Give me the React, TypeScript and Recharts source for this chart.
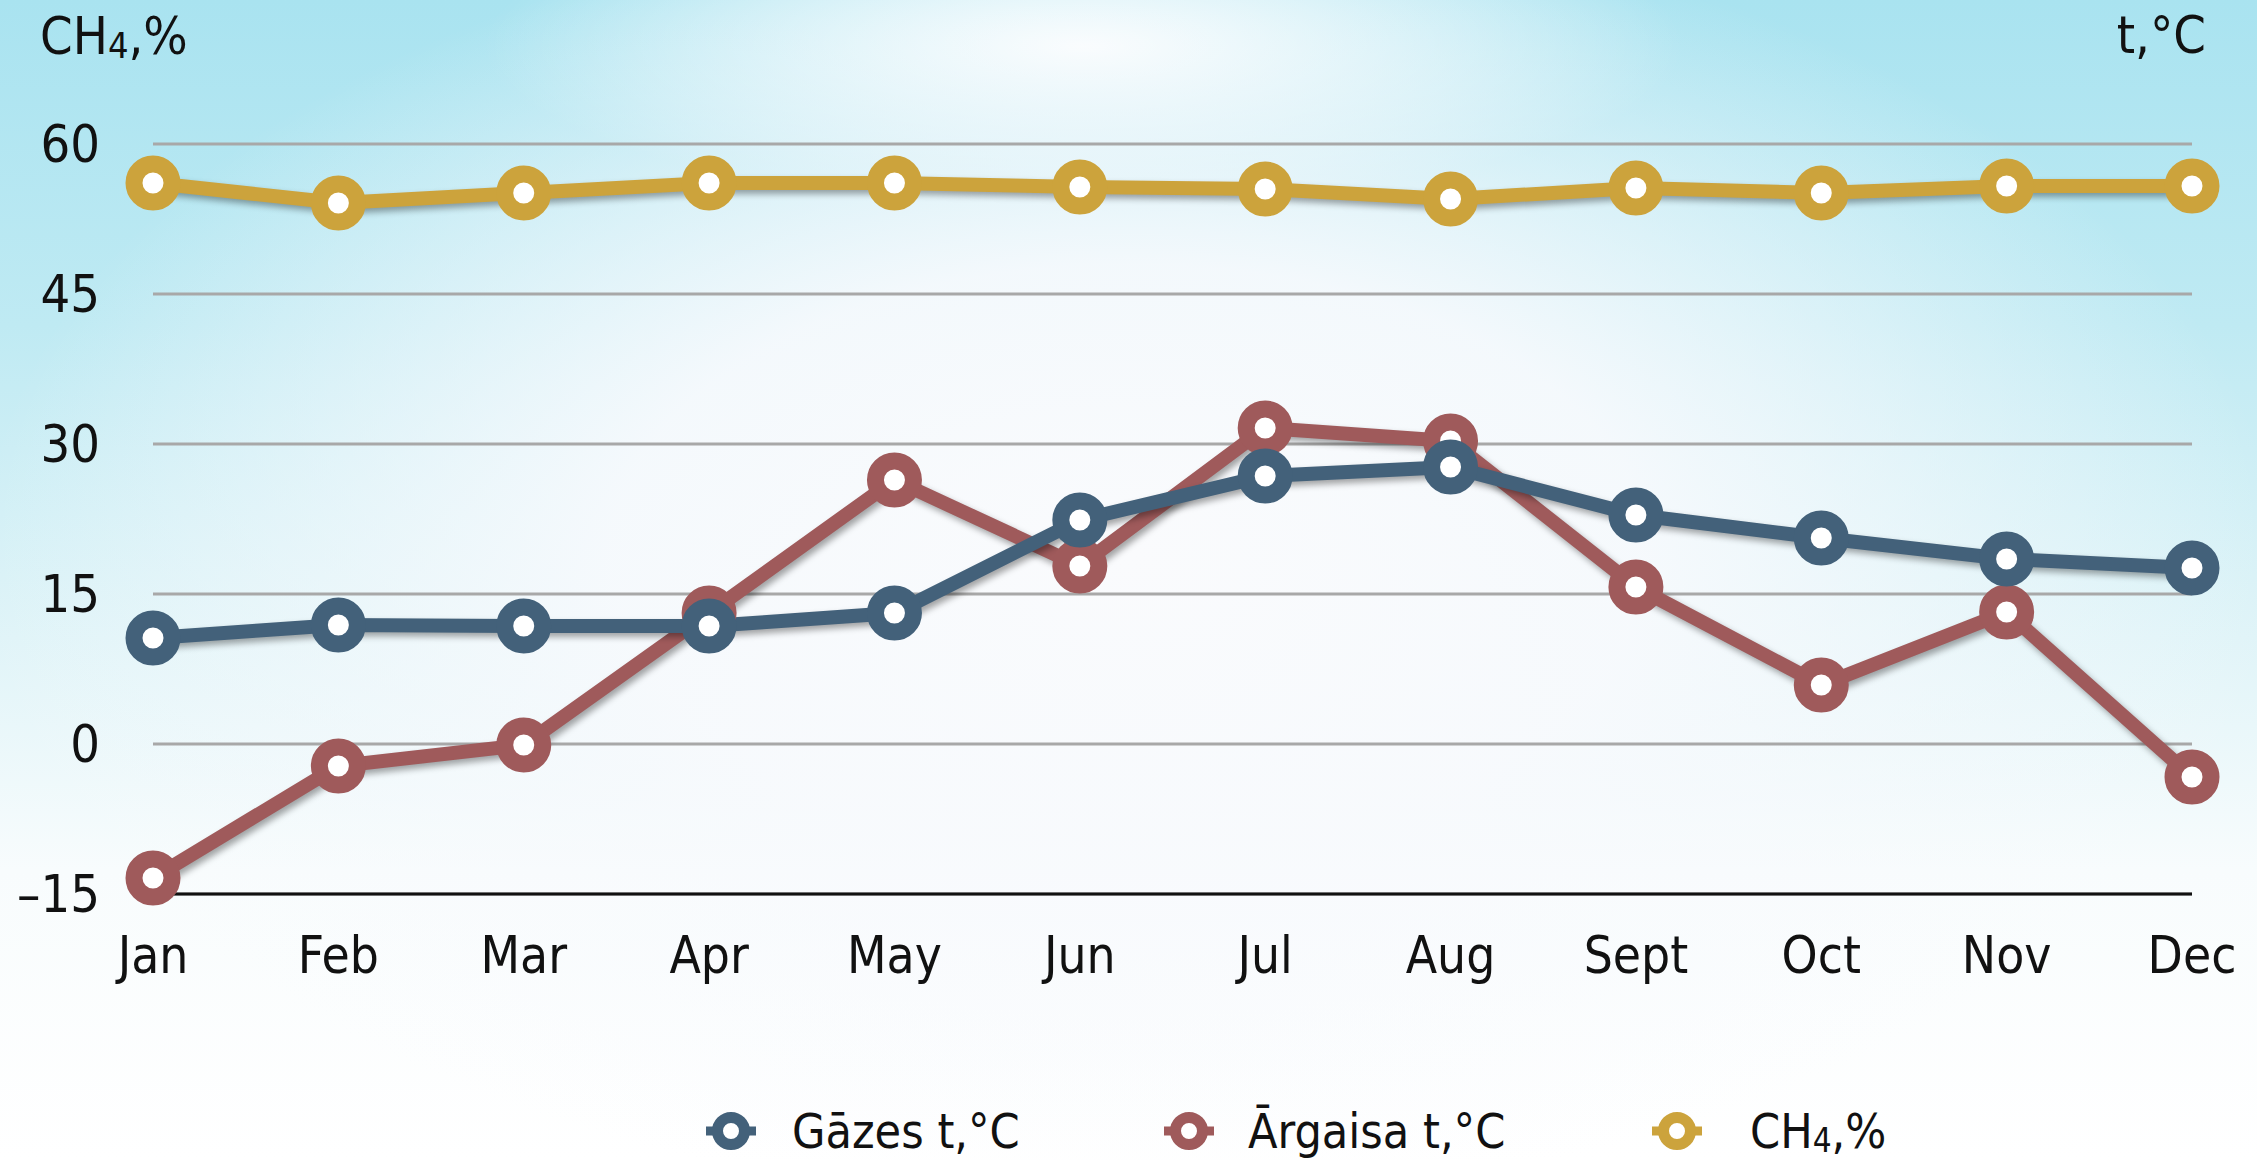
import { CartesianGrid, Line, LineChart, XAxis, YAxis } from 'recharts'

const months = ['Jan', 'Feb', 'Mar', 'Apr', 'May', 'Jun', 'Jul', 'Aug', 'Sept', 'Oct', 'Nov', 'Dec']
const gasTemp = [10.6, 11.9, 11.8, 11.8, 13.1, 22.4, 26.8, 27.7, 22.9, 20.6, 18.5, 17.6]
const airTemp = [-13.4, -2.2, -0.1, 13.1, 26.4, 17.8, 31.6, 30.3, 15.7, 5.9, 13.2, -3.3]
const ch4 = [56.1, 54.1, 55.1, 56.1, 56.1, 55.7, 55.5, 54.5, 55.6, 55.1, 55.8, 55.8]
const yTicks = [-15, 0, 15, 30, 45, 60]

const BLUE = '#43617a'
const RED = '#9f5a5b'
const GOLD = '#cca33c'
const FONT = "'Liberation Sans Narrow', 'DejaVu Sans Condensed', sans-serif"

const W = 2257
const H = 1160

const data = months.map((m, i) => ({ month: m, gas: gasTemp[i], air: airTemp[i], ch4: ch4[i] }))

const legendItems = [
  { color: BLUE, cx: 731, tx: 792, label: 'Gāzes t,°C' },
  { color: RED, cx: 1189, tx: 1248, label: 'Ārgaisa t,°C' },
  { color: GOLD, cx: 1677, tx: 1750, label: 'CH4' },
]

function dotStyle(color: string) {
  return { r: 19, fill: '#ffffff', stroke: color, strokeWidth: 17 }
}

export default function App() {
  return (
    <div
      style={{
        position: 'relative',
        width: W,
        height: H,
        fontFamily: FONT,
        overflow: 'hidden',
        background:
          'radial-gradient(ellipse 1150px 650px at 50% 48%, rgba(250,251,253,1) 0%, rgba(248,250,253,0.92) 45%, rgba(248,250,253,0) 100%), radial-gradient(ellipse 600px 160px at 48% 4%, rgba(255,255,255,0.95) 0%, rgba(255,255,255,0) 100%), linear-gradient(to bottom, #a9e3f0 0%, #bfeaf3 28%, #e0f4f8 55%, #f8fcfd 75%, #ffffff 100%)',
      }}
    >
      <style>{`body{margin:0} .recharts-line{filter:drop-shadow(3px 4px 3px rgba(0,0,0,0.35))}`}</style>
      <LineChart width={W} height={H} data={data} margin={{ top: 144, right: 65, left: 0, bottom: 0 }}>
        <CartesianGrid vertical={false} stroke="#a8a8a8" strokeWidth={3} />
        <XAxis
          dataKey="month"
          height={266}
          padding={{ left: 0, right: 0 }}
          axisLine={{ stroke: '#111', strokeWidth: 3 }}
          tickLine={false}
          tickSize={0}
          tickMargin={43}
          tick={{ fill: '#111', fontSize: 51 }}
          interval={0}
        />
        <YAxis
          domain={[-15, 60]}
          ticks={yTicks}
          width={153}
          axisLine={false}
          tickLine={false}
          tickSize={0}
          tickMargin={53}
          tick={{ fill: '#111', fontSize: 52 }}
          tickFormatter={(v: number) => (v < 0 ? `–${Math.abs(v)}` : `${v}`)}
        />
        <Line dataKey="ch4" stroke={GOLD} strokeWidth={14} dot={dotStyle(GOLD)} activeDot={false} isAnimationActive={false} />
        <Line dataKey="air" stroke={RED} strokeWidth={14} dot={dotStyle(RED)} activeDot={false} isAnimationActive={false} />
        <Line dataKey="gas" stroke={BLUE} strokeWidth={14} dot={dotStyle(BLUE)} activeDot={false} isAnimationActive={false} />
      </LineChart>

      <svg width={W} height={H} style={{ position: 'absolute', left: 0, top: 0, pointerEvents: 'none' }}>
        <text x={40} y={54} fontSize={52} fill="#111" fontFamily={FONT}>
          CH<tspan fontSize={36} dy={4}>4</tspan>
          <tspan dy={-4}>,%</tspan>
        </text>
        <text x={2206} y={53} fontSize={52} fill="#111" textAnchor="end" fontFamily={FONT}>
          t,°C
        </text>
        {legendItems.map((it) => (
          <g key={it.label}>
            <line x1={it.cx - 25} x2={it.cx + 25} y1={1131} y2={1131} stroke={it.color} strokeWidth={9} />
            <circle cx={it.cx} cy={1131} r={13.5} fill="#ffffff" stroke={it.color} strokeWidth={11} />
            <text x={it.tx} y={1148} fontSize={48} fill="#111" fontFamily={FONT}>
              {it.label === 'CH4' ? (
                <>
                  CH<tspan fontSize={33} dy={4}>4</tspan>
                  <tspan dy={-4}>,%</tspan>
                </>
              ) : (
                it.label
              )}
            </text>
          </g>
        ))}
      </svg>
    </div>
  )
}
